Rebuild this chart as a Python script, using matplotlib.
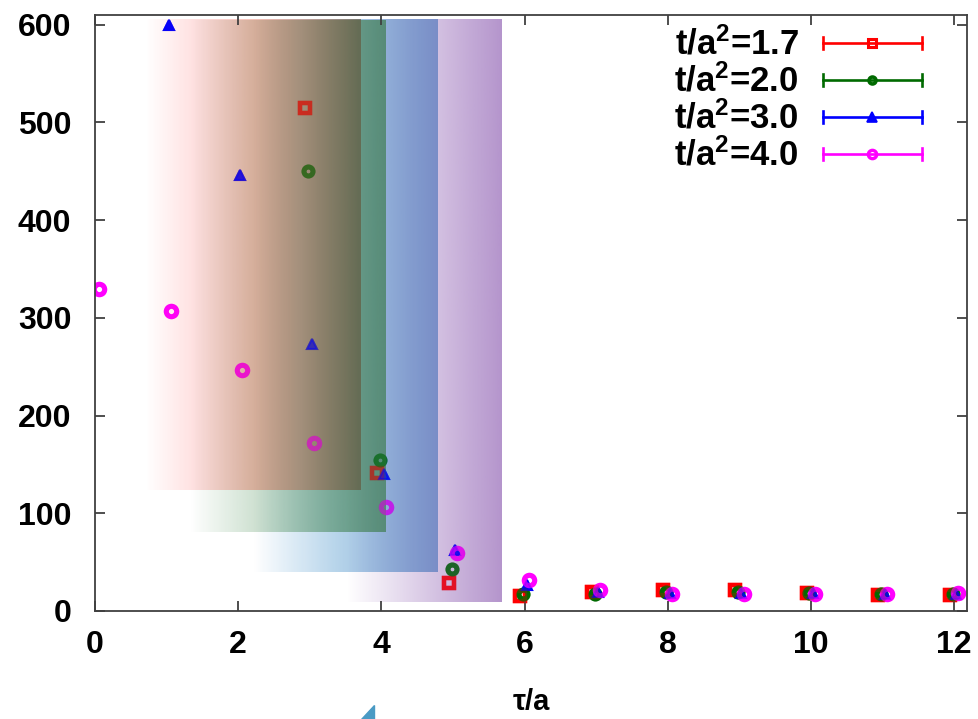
import numpy as np
import matplotlib
matplotlib.use("Agg")
import matplotlib.pyplot as plt
from matplotlib.patches import Polygon

# ---- data -------------------------------------------------------------
labels = ["1.7", "2.0", "3.0", "4.0"]

tau_17 = [3, 4, 5, 6, 7, 8, 9, 10, 11, 12]
val_17 = [515, 141, 29, 15, 19.5, 22, 21, 18.5, 16, 16]

tau_20 = [3, 4, 5, 6, 7, 8, 9, 10, 11, 12]
val_20 = [450, 155, 43, 17, 17, 19.5, 19.5, 18, 17, 17]

tau_30 = [1, 2, 3, 4, 5, 6, 7, 8, 9, 10, 11, 12]
val_30 = [600, 446, 273, 140, 62, 27, 19, 18, 18, 18, 17, 17]

tau_40 = [0, 1, 2, 3, 4, 5, 6, 7, 8, 9, 10, 11, 12]
val_40 = [330, 307, 247, 172, 106, 59, 32, 21, 17, 17.5, 17, 17.5, 18]

x_ticks = [0, 2, 4, 6, 8, 10, 12]
y_ticks = [0, 100, 200, 300, 400, 500, 600]

# ---- style ------------------------------------------------------------
plt.rcParams["font.family"] = ["Liberation Sans", "DejaVu Sans"]
plt.rcParams["font.weight"] = "bold"
plt.rcParams["mathtext.fontset"] = "custom"
plt.rcParams["mathtext.rm"] = "Liberation Sans:bold"
plt.rcParams["mathtext.it"] = "Liberation Sans:bold"
plt.rcParams["mathtext.bf"] = "Liberation Sans:bold"

W, H = 979, 719
fig = plt.figure(figsize=(W / 100, H / 100), dpi=100)
L, R, T, B = 95, 967, 15, 611
ax = fig.add_axes([L / W, 1 - B / H, (R - L) / W, (B - T) / H])

series = [
    (tau_17, val_17, "#ff0000", "s", -0.06, dict(mfc="none", ms=7.5, mew=3.2)),
    (tau_20, val_20, "#006a00", "o", -0.02, dict(mfc="none", ms=6.5, mew=3.6)),
    (tau_30, val_30, "#0000ff", "^", 0.03, dict(mfc="#0000ff", ms=7, mew=1.5)),
    (tau_40, val_40, "#ff00ff", "o", 0.06, dict(mfc="none", ms=7.5, mew=3.6)),
]

# points: a base pass that the bands tint, plus a faint pass on top so the
# symbols keep some of their own colour inside the shaded areas
for tau, val, col, mk, shift, kw in series:
    ax.plot(np.asarray(tau) + shift, val, linestyle="none", marker=mk,
            color=col, mec=col, zorder=1, **kw)
    ax.plot(np.asarray(tau) + shift, val, linestyle="none", marker=mk,
            color=col, mec=col, zorder=1.6, alpha=0.45, **kw)

# ---- translucent gradient bands drawn over the points -----------------
def band(x0, x1, y0, y1, stops, amax, z):
    n = 256
    f = np.linspace(0, 1, n)
    pos = [s[0] for s in stops]
    rgb = np.stack([np.interp(f, pos, [s[1][i] / 255 for s in stops])
                    for i in range(3)], axis=-1)
    a = amax * f
    img = np.concatenate([rgb, a[:, None]], axis=-1)[None, :, :]
    ax.imshow(img, extent=[x0, x1, y0, y1], aspect="auto",
              interpolation="bilinear", zorder=z, origin="lower")

band(3.52, 5.68, 9, 605,
     [(0, (130, 77, 170)), (1, (130, 77, 170))], 0.60, 1.1)
band(2.21, 4.79, 40, 605,
     [(0, (0, 110, 190)), (0.45, (10, 110, 185)), (1, (74, 115, 186))],
     0.65, 1.2)
band(1.33, 4.06, 81, 605,
     [(0, (40, 125, 50)), (1, (63, 125, 79))], 0.70, 1.3)
band(0.70, 3.715, 123.5, 605,
     [(0, (255, 60, 60)), (0.21, (255, 62, 62)), (0.51, (225, 83, 54)),
      (0.72, (179, 100, 75)), (1, (100, 89, 63))], 0.70, 1.4)

ax.set_xlim(0, 12.18)
ax.set_ylim(0, 610)

# ---- axes -------------------------------------------------------------
for s in ax.spines.values():
    s.set_color("#404040")
    s.set_linewidth(1.3)
    s.set_zorder(3)

ax.set_xticks(x_ticks)
ax.set_yticks(y_ticks)
ax.tick_params(direction="in", length=7, width=1.3, color="#404040",
               top=True, right=True, zorder=3)
ax.tick_params(axis="x", pad=14)
ax.tick_params(axis="y", pad=17)
ax.set_xticklabels([str(v) for v in x_ticks], fontsize=23, fontweight="bold")
ax.set_yticklabels([str(v) for v in y_ticks], fontsize=23, fontweight="bold")

ax.set_xlabel("τ/a", fontsize=21, fontweight="bold", labelpad=20)

# ---- key with error-bar samples ---------------------------------------
def ax_x(px):
    return (px - L) / (R - L)

def ax_y(py):
    return 1 - (py - T) / (B - T)

key_kw = [dict(mfc="none", ms=6, mew=2.2), dict(mfc="none", ms=5, mew=2.6),
          dict(mfc="#0000ff", ms=6.5, mew=1.2), dict(mfc="none", ms=6, mew=2.4)]
row_px = [43, 80, 117, 154]
for (tau, val, col, mk, shift, kw), lab, py, kk in zip(series, labels,
                                                      row_px, key_kw):
    ax.text(ax_x(799), ax_y(py + 11), r"$\mathrm{t/a^2}$=" + lab,
            transform=ax.transAxes, ha="right", va="baseline",
            fontsize=25, fontweight="bold", zorder=4)
    xl, xr = ax_x(823), ax_x(922)
    ax.plot([xl, xr], [ax_y(py), ax_y(py)], color=col, lw=1.9,
            transform=ax.transAxes, clip_on=False, zorder=4)
    for xc in (xl, xr):
        ax.plot([xc, xc], [ax_y(py - 6), ax_y(py + 6)], color=col, lw=1.9,
                transform=ax.transAxes, clip_on=False, zorder=4)
    ax.plot([ax_x(872)], [ax_y(py)], marker=mk, color=col, mec=col,
            transform=ax.transAxes, clip_on=False, zorder=4, **kk)

# small corner mark below the axis title
tri = Polygon([[361 / W, 0], [374 / W, 0], [374 / W, 1 - 705 / H]],
              closed=True, transform=fig.transFigure, color="#4a9ac4")
fig.patches.append(tri)

fig.savefig("out.png", dpi=100)
